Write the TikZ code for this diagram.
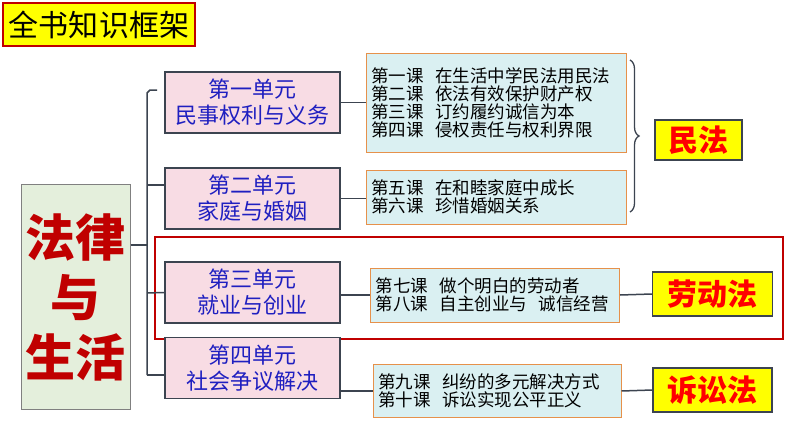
\documentclass[tikz,border=0pt]{standalone}
\usepackage{fontspec}
\setmainfont{Noto Sans CJK SC}
\usetikzlibrary{decorations.pathreplacing}
\definecolor{ttlY}{HTML}{FFFF00}
\definecolor{dred}{HTML}{C00000}
\definecolor{unitfill}{HTML}{F8DCE4}
\definecolor{lesfill}{HTML}{DAF0F2}
\definecolor{lesbd}{HTML}{E6914B}
\definecolor{rootfill}{HTML}{E4EFDC}
\definecolor{lineC}{HTML}{3C4450}
\definecolor{ublue}{HTML}{1F1FC0}
\tikzset{
 unit/.style={draw=lineC,line width=1.2pt,fill=unitfill,minimum width=175pt,minimum height=61pt,align=center,text=ublue,font=\fontsize{22}{26}\selectfont,inner sep=0pt},
 les/.style={draw=lesbd,line width=1pt,fill=lesfill,align=left,font=\fontsize{17.5}{18}\selectfont,inner xsep=5pt,inner ysep=0pt},
 law/.style={draw=lineC,line width=1.2pt,fill=ttlY,text=red,font=\fontsize{30}{33}\selectfont\bfseries,inner sep=0pt},
 conn/.style={lineC,line width=1.5pt}
}
\begin{document}
\begin{tikzpicture}[x=1pt,y=-1pt]
\useasboundingbox[fill=white] (0,0) rectangle (794,447);
\node[draw=dred,line width=1.2pt,fill=ttlY,minimum width=192pt,minimum height=43pt,inner sep=0pt,font=\fontsize{30}{33}\selectfont] (title) at (99,24.5) {全书知识框架};
\node[draw=gray,line width=1pt,fill=rootfill,minimum width=109pt,minimum height=225pt,align=center,text=dred,font=\fontsize{50}{60}\selectfont\bfseries,inner sep=0pt] (root) at (75.5,297) {法律\\与\\生活};
\draw[dred,line width=1.5pt] (155,237) rectangle (783,339);
\node[unit] (u1) at (252.5,102.5) {第一单元\\民事权利与义务};
\node[unit] (u2) at (252.5,198.5) {第二单元\\家庭与婚姻};
\node[unit] (u3) at (252.5,292.5) {第三单元\\就业与创业};
\node[unit] (u4) at (252.5,368) {第四单元\\社会争议解决};
\node[les,text width=250pt,minimum height=99pt] (l1) at (496,102.5) {第一课\ \ 在生活中学民法用民法\\第二课\ \ 依法有效保护财产权\\第三课\ \ 订约履约诚信为本\\第四课\ \ 侵权责任与权利界限};
\node[les,text width=250pt,minimum height=54pt] (l2) at (496,197) {第五课\ \ 在和睦家庭中成长\\第六课\ \ 珍惜婚姻关系};
\node[les,text width=239pt,minimum height=54pt] (l3) at (495,295) {第七课\ \ 做个明白的劳动者\\第八课\ \ 自主创业与\ \ 诚信经营};
\node[les,text width=238pt,minimum height=53pt] (l4) at (497,391) {第九课\ \ 纠纷的多元解决方式\\第十课\ \ 诉讼实现公平正义};
\node[law,minimum width=87pt,minimum height=40pt] (m) at (698.5,140) {民法};
\node[law,minimum width=120pt,minimum height=44pt] (ld) at (712.5,294) {劳动法};
\node[law,minimum width=119pt,minimum height=44pt] (ss) at (712.5,390) {诉讼法};
\coordinate (bt) at (147,90);
\coordinate (bb) at (147,375);
\draw[conn] (157,90) -- (150,90) -- (147,93) -- (bb) ;
\draw[conn] (root.east |- 0,245) -- (147,245);
\draw[conn] (147,185) -- (u2.west |- 0,185);
\draw[conn] (147,293) -- (u3.west);
\draw[conn] (147,375) -- (u4.west |- 0,375);
\draw[conn] (u1.east) -- (l1.west |- u1.east);
\draw[conn] (u2.east) -- (l2.west |- u2.east);
\draw[conn] (u3.east |- l3.west) -- (l3.west);
\draw[conn] (u4.east |- l4.west) -- (l4.west);
\draw[conn] (l3.east) -- (ld.west);
\draw[conn] (l4.east) -- (ss.west);
\draw[conn,line width=1.3pt,decorate,decoration={brace,amplitude=9pt}] (630,60) -- (630,212);
\end{tikzpicture}
\end{document}
